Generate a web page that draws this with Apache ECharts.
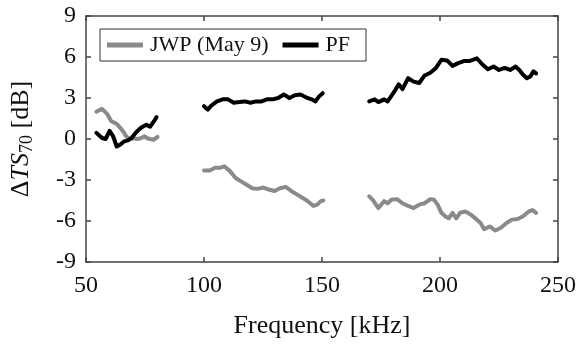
<!DOCTYPE html>
<html><head><meta charset="utf-8">
<script src="https://cdn.jsdelivr.net/npm/echarts@6/dist/echarts.min.js"></script>
<style>html,body{margin:0;padding:0;background:#fff}#c{width:579px;height:348px}</style>
</head><body><div id="c"></div>
<script>
// Tick labels
const xTicks = [50, 100, 150, 200, 250];
const yTicks = [-9, -6, -3, 0, 3, 6, 9];
const seriesNames = ['JWP (May 9)', 'PF'];

// JWP (May 9) segments: frequency (kHz) and ΔTS70 (dB)
const jwpF1 = [54.4,55.5,56.8,58.0,59.1,60.7,62.0,63.0,64.6,66.0,67.0,68.5,70.0,71.7,73.2,74.8,76.0,77.2,78.8,80.3];
const jwpV1 = [2.0,2.1,2.2,2.0,1.8,1.3,1.2,1.1,0.8,0.5,0.2,0.0,0.05,0.0,0.05,0.2,0.05,0.0,-0.05,0.15];
const jwpF2 = [100,102.4,104.7,107,108.6,111,113.4,115.7,118.1,120.4,122.8,125.2,127.5,129.9,132.2,134.6,137,139.3,141.7,144,146.4,148,149.5,150.6];
const jwpV2 = [-2.3,-2.3,-2.1,-2.1,-2.0,-2.35,-2.85,-3.1,-3.35,-3.6,-3.65,-3.55,-3.7,-3.8,-3.6,-3.5,-3.8,-4.05,-4.3,-4.55,-4.9,-4.8,-4.55,-4.5];
const jwpF3 = [170,171.5,173.9,176.3,177.8,179.4,181.8,184.1,186.5,188.8,191.2,193.5,195.9,197.5,199,200.6,202.2,203.7,205.3,206.9,208.5,210.8,213.2,215.6,217.2,218.7,221.1,223.5,225.8,228.2,230.5,232.9,235.2,237.6,239.2,240.7];
const jwpV3 = [-4.2,-4.45,-5.05,-4.55,-4.7,-4.45,-4.4,-4.7,-4.9,-5.05,-4.8,-4.7,-4.4,-4.45,-4.8,-5.4,-5.65,-5.8,-5.4,-5.8,-5.4,-5.3,-5.55,-5.9,-6.15,-6.6,-6.4,-6.7,-6.5,-6.15,-5.9,-5.85,-5.65,-5.3,-5.2,-5.4];

// PF segments
const pfF1 = [54.4,56.8,58.3,60,61.5,63,64.6,66.2,67.8,69.3,71,72.5,74,75.6,77.2,78.8,79.9];
const pfV1 = [0.45,0.07,0.0,0.6,0.2,-0.55,-0.4,-0.17,-0.1,0.07,0.44,0.7,0.9,1.05,0.9,1.3,1.6];
const pfF2 = [100,101.6,103.1,105.5,107.9,110.2,112.6,115,117.3,119.7,122,124.4,126.7,129,131.4,133.8,136.2,138.5,140.9,143.2,145.6,147.2,148.7,150.3];
const pfV2 = [2.4,2.15,2.45,2.75,2.9,2.9,2.65,2.7,2.75,2.65,2.75,2.75,2.9,2.9,3.0,3.25,3.0,3.2,3.25,3.05,2.9,2.75,3.1,3.35];
const pfF3 = [170,172.3,173.9,176.3,177.8,180.2,182.5,184.1,186.5,188.8,191.2,193.5,195.9,198.3,200.6,203,205.3,207.7,210.1,212.4,215.6,218,220.3,222.7,225,227.4,229.7,232.1,233.6,235.2,236.8,238.4,239.6,240.7];
const pfV3 = [2.75,2.9,2.7,2.9,2.75,3.35,4.0,3.65,4.45,4.2,4.1,4.65,4.85,5.2,5.8,5.75,5.35,5.55,5.7,5.7,5.9,5.45,5.1,5.3,5.05,5.2,5.05,5.3,5.05,4.7,4.45,4.6,4.95,4.8];

const font = "'Liberation Serif','Times New Roman',serif";
const pair = (f, v) => f.map((x, i) => [x, v[i]]);
const seg = (name, color, f, v) => ({
  type: 'line', name, data: pair(f, v), showSymbol: false, symbol: 'none',
  lineStyle: { color, width: 4, cap: 'round', join: 'round' }, itemStyle: { color },
  animation: false, z: name === 'PF' ? 3 : 2
});
const gray = '#8a8a8a', black = '#000000';

const axisLineStyle = { color: '#444', width: 1.5 };
const chart = echarts.init(document.getElementById('c'), null, { renderer: 'canvas' });
chart.setOption({
  animation: false,
  grid: { left: 85, right: 21, top: 16, bottom: 86, containLabel: false },
  legend: {
    left: 100, top: 29, orient: 'horizontal',
    data: seriesNames.map(n => ({ name: n, icon: 'rect' })),
    itemWidth: 36, itemHeight: 5, itemGap: 14,
    borderColor: '#333', borderWidth: 1, padding: [5, 16, 5, 7],
    textStyle: { fontFamily: font, fontSize: 22, color: '#111', padding: [0, 0, 0, 2] },
    selectedMode: false
  },
  xAxis: [{
    type: 'value', min: xTicks[0], max: xTicks[xTicks.length - 1], interval: 50,
    name: 'Frequency [kHz]', nameLocation: 'middle', nameGap: 51,
    nameTextStyle: { fontFamily: font, fontSize: 26, color: '#111' },
    axisLine: { show: true, onZero: false, lineStyle: axisLineStyle },
    axisTick: { show: true, inside: true, length: 5, lineStyle: axisLineStyle },
    axisLabel: { fontFamily: font, fontSize: 24, color: '#111', margin: 12 },
    splitLine: { show: false }
  }, {
    type: 'value', position: 'top', min: xTicks[0], max: xTicks[xTicks.length - 1], interval: 50,
    axisLine: { show: true, onZero: false, lineStyle: axisLineStyle },
    axisTick: { show: true, inside: true, length: 5, lineStyle: axisLineStyle },
    axisLabel: { show: false }, splitLine: { show: false }
  }],
  yAxis: [{
    type: 'value', min: yTicks[0], max: yTicks[yTicks.length - 1], interval: 3,
    name: 'Δ{i|TS}{sub|70} [dB]', nameLocation: 'middle', nameGap: 50, nameRotate: 90,
    nameTextStyle: {
      fontFamily: font, fontSize: 26, color: '#111',
      rich: {
        i: { fontFamily: font, fontSize: 26, fontStyle: 'italic', color: '#111' },
        sub: { fontFamily: font, fontSize: 18, color: '#111', padding: [12, 0, 0, 0] }
      }
    },
    axisLine: { show: true, onZero: false, lineStyle: axisLineStyle },
    axisTick: { show: true, inside: true, length: 5, lineStyle: axisLineStyle },
    axisLabel: { fontFamily: font, fontSize: 24, color: '#111', margin: 10 },
    splitLine: { show: false }
  }, {
    type: 'value', position: 'right', min: yTicks[0], max: yTicks[yTicks.length - 1], interval: 3,
    axisLine: { show: true, onZero: false, lineStyle: axisLineStyle },
    axisTick: { show: true, inside: true, length: 5, lineStyle: axisLineStyle },
    axisLabel: { show: false }, splitLine: { show: false }
  }],
  series: [
    seg(seriesNames[0], gray, jwpF1, jwpV1),
    seg(seriesNames[0], gray, jwpF2, jwpV2),
    seg(seriesNames[0], gray, jwpF3, jwpV3),
    seg(seriesNames[1], black, pfF1, pfV1),
    seg(seriesNames[1], black, pfF2, pfV2),
    seg(seriesNames[1], black, pfF3, pfV3)
  ]
});
</script></body></html>
